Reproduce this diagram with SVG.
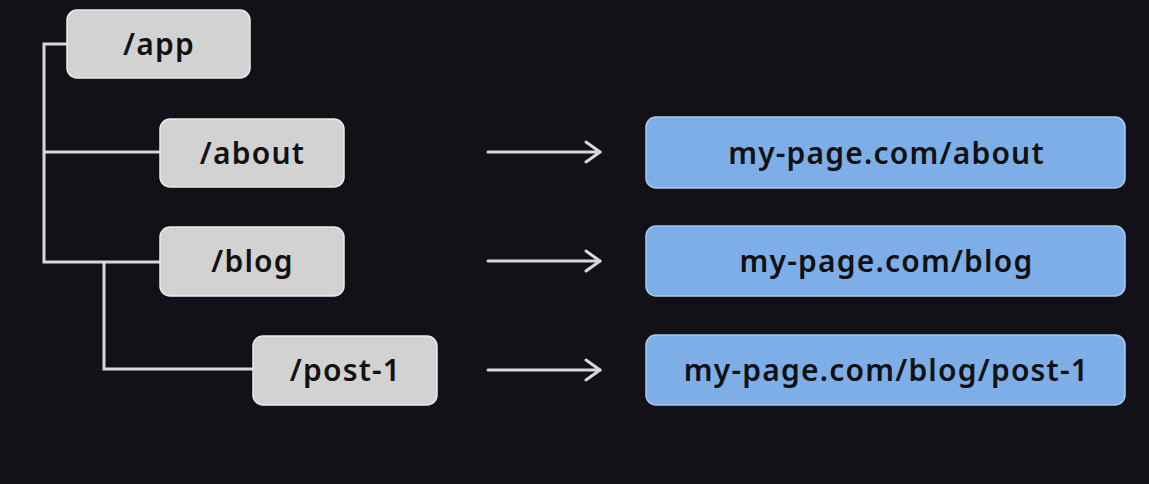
<svg xmlns="http://www.w3.org/2000/svg" width="1149" height="484" viewBox="0 0 1149 484">
<defs>
<style>
.bg{fill:#131118}
.gray{fill:#d2d2d2;stroke:#eaeaea;stroke-width:1.5}
.blue{fill:#7eaee8;stroke:#a9c9f0;stroke-width:1.5}
.t{font-family:"Noto Sans","Open Sans",sans-serif;font-weight:600;font-size:30px;letter-spacing:1.2px;fill:#111;text-anchor:middle;dominant-baseline:central}
.line{fill:none;stroke:#d8d8d8;stroke-width:3;stroke-linejoin:miter}
.arrow{fill:none;stroke:#d8d8d8;stroke-width:3;stroke-linecap:round;stroke-linejoin:round}
</style>
<marker id="ah" viewBox="0 0 20 24" refX="18" refY="12" markerWidth="20" markerHeight="24" markerUnits="userSpaceOnUse" orient="auto">
<path d="M4,2 L18,12 L4,22" fill="none" stroke="#d8d8d8" stroke-width="3" stroke-linecap="round" stroke-linejoin="round"/>
</marker>
</defs>
<rect class="bg" x="0" y="0" width="1149" height="484"/>
<g id="connectors">
<path class="line" d="M67,44 H44 V262 H160"/>
<path class="line" d="M44,152 H160"/>
<path class="line" d="M104,262 V369 H253"/>
<path class="arrow" d="M488,152 H600" marker-end="url(#ah)"/>
<path class="arrow" d="M488,261 H600" marker-end="url(#ah)"/>
<path class="arrow" d="M488,370 H600" marker-end="url(#ah)"/>
</g>
<g id="app"><rect class="gray" x="67" y="10" width="183" height="68" rx="10"/><text class="t" x="159" y="43">/app</text></g>
<g id="about"><rect class="gray" x="160" y="119" width="184" height="68" rx="10"/><text class="t" x="252.5" y="152">/about</text></g>
<g id="blog"><rect class="gray" x="160" y="227" width="184" height="69" rx="10"/><text class="t" x="252.5" y="260">/blog</text></g>
<g id="post1"><rect class="gray" x="253" y="336" width="184" height="69" rx="10"/><text class="t" x="345.5" y="369">/post-1</text></g>
<g id="url-about"><rect class="blue" x="646" y="117" width="479" height="71" rx="10"/><text class="t" x="886.5" y="152">my-page.com/about</text></g>
<g id="url-blog"><rect class="blue" x="646" y="226" width="479" height="70" rx="10"/><text class="t" x="886.5" y="260">my-page.com/blog</text></g>
<g id="url-post1"><rect class="blue" x="646" y="335" width="479" height="70" rx="10"/><text class="t" x="886.5" y="369">my-page.com/blog/post-1</text></g>
</svg>
